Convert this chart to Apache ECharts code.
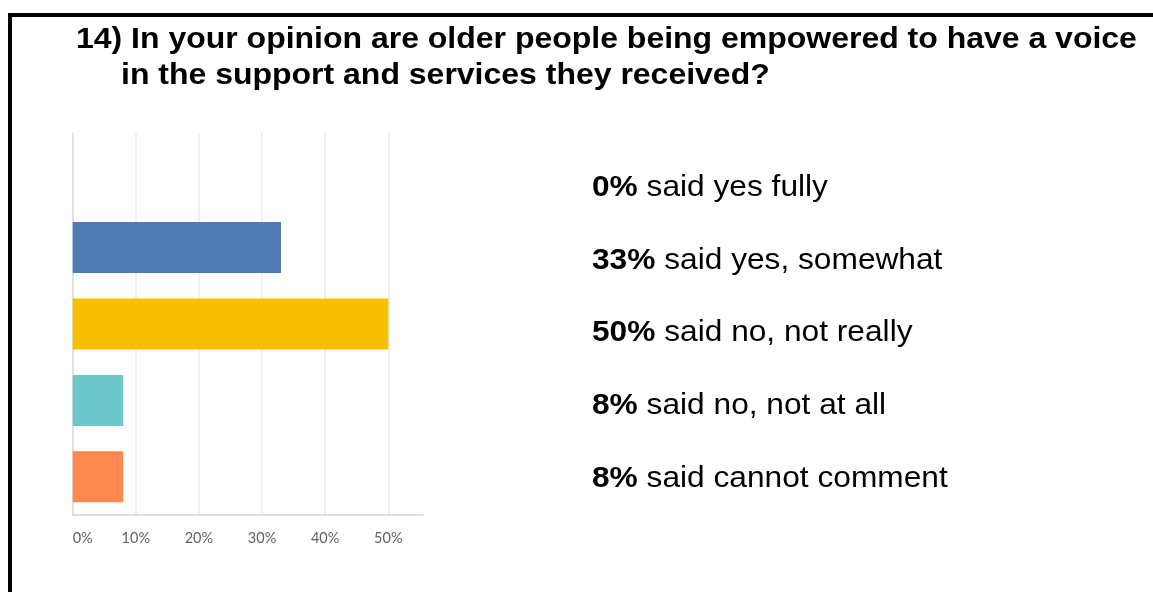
<!DOCTYPE html>
<html>
<head>
<meta charset="utf-8">
<script src="https://cdn.jsdelivr.net/npm/echarts@6/dist/echarts.min.js"></script>
<style>
  html, body { margin: 0; padding: 0; background: #ffffff; }
  #chart { width: 1153px; height: 592px; }
</style>
</head>
<body>
<div id="chart"></div>
<script>
// Survey question and answers
const titleLines = [
  '14) In your opinion are older people being empowered to have a voice',
  'in the support and services they received?'
];
const categories = ['yes fully', 'yes, somewhat', 'no, not really', 'no, not at all', 'cannot comment'];
const percentValues = [0, 33, 50, 8, 8];
const barColors = ['#4f7bb4', '#4f7bb4', '#f8be00', '#6cc6ca', '#fe884d'];
const xTickValues = [0, 10, 20, 30, 40, 50];

const chart = echarts.init(document.getElementById('chart'), null, { renderer: 'canvas' });

const textFont = '"Liberation Sans", Arial, sans-serif';

// Answer summary lines on the right
const summaryTexts = categories.map((cat, i) => ({
  type: 'text',
  x: 592,
  y: 188 + i * 72.6,
  scaleX: 1.056,
  style: {
    text: '{b|' + percentValues[i] + '%} said ' + cat,
    rich: {
      b: { fontWeight: 'bold', fontSize: 30, fontFamily: textFont, fill: '#000' }
    },
    fontSize: 30,
    fontFamily: textFont,
    fill: '#000',
    verticalAlign: 'middle'
  }
}));

const splitColors = xTickValues.map(() => '#ebebeb').concat(['rgba(0,0,0,0)']);

chart.setOption({
  animation: false,
  backgroundColor: '#ffffff',
  grid: { left: 72.7, top: 133, width: 350.3, height: 382, containLabel: false },
  xAxis: {
    type: 'value',
    min: 0,
    max: 55.5,
    interval: 10,
    axisLine: { show: true, lineStyle: { color: '#d4d4d4', width: 1.5 } },
    axisTick: { show: false },
    splitLine: { show: true, lineStyle: { color: splitColors, width: 1.5 } },
    axisLabel: {
      show: true,
      margin: 16,
      color: '#626262',
      fontSize: 14.5,
      fontFamily: 'Lato, "Open Sans", sans-serif',
      showMaxLabel: false,
      alignMinLabel: 'left',
      formatter: v => (xTickValues.indexOf(v) >= 0 ? v + '%' : '')
    }
  },
  yAxis: {
    type: 'category',
    inverse: true,
    data: categories,
    axisLine: { show: true, lineStyle: { color: '#dcdcdc', width: 1.5 } },
    axisTick: { show: false },
    axisLabel: { show: false },
    splitLine: { show: false }
  },
  series: [{
    type: 'bar',
    barCategoryGap: '33.3%',
    data: percentValues.map((v, i) => ({ value: v, itemStyle: { color: barColors[i] } })),
    label: { show: false }
  }],
  graphic: [
    // frame
    { type: 'rect', shape: { x: 8, y: 13, width: 1145, height: 4 }, style: { fill: '#000' } },
    { type: 'rect', shape: { x: 8, y: 13, width: 4, height: 579 }, style: { fill: '#000' } },
    // title
    {
      type: 'text', x: 76, y: 39.5, scaleX: 1.066,
      style: { text: titleLines[0], fontSize: 30, fontWeight: 'bold', fontFamily: textFont, fill: '#000', verticalAlign: 'middle' }
    },
    {
      type: 'text', x: 121, y: 76, scaleX: 1.066,
      style: { text: titleLines[1], fontSize: 30, fontWeight: 'bold', fontFamily: textFont, fill: '#000', verticalAlign: 'middle' }
    }
  ].concat(summaryTexts)
});
</script>
</body>
</html>
